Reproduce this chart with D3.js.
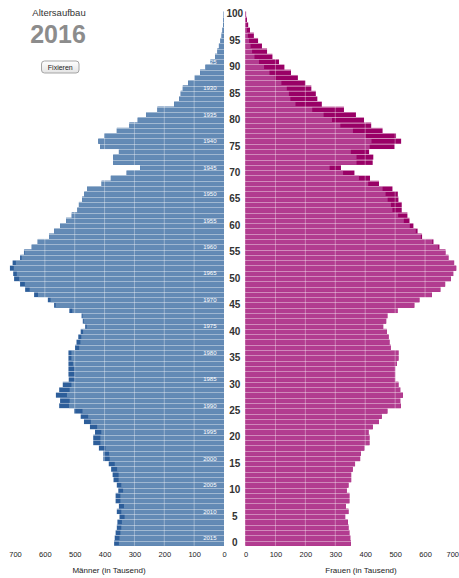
<!DOCTYPE html>
<html>
<head>
<meta charset="utf-8">
<script src="https://cdn.jsdelivr.net/npm/d3@7"></script>
<style>
  body { margin: 0; background: #fff; }
  svg { display: block; font-family: "Liberation Sans", Arial, sans-serif; }
</style>
</head>
<body>
<svg width="459" height="578"></svg>
<script>
// Altersaufbau 2016 - Werte in Tausend, Index = Alter (0 bis 100)
let jahr = 2016;
let alter = d3.range(0, 101);

let maenner = [
  368, 366, 363, 359, 357, 350, 359, 352, 363, 363,   // 0-9
  354, 359, 370, 373, 378, 386, 404, 404, 419, 438,   // 10-19
  438, 432, 449, 469, 480, 502, 552, 549, 563, 552,   // 20-29
  540, 520, 521, 521, 521, 521, 521, 499, 494, 488,   // 30-39
  480, 465, 473, 477, 518, 569, 590, 636, 666, 683,   // 40-49
  703, 706, 717, 708, 683, 670, 644, 624, 586, 569,   // 50-59
  549, 529, 510, 491, 486, 475, 468, 458, 410, 379,   // 60-69
  326, 281, 371, 371, 352, 415, 421, 401, 359, 317,   // 70-79
  289, 261, 223, 167, 150, 145, 138, 120, 98, 80,     // 80-89
  62, 45, 30, 22, 17, 12, 8, 5, 3, 2,                 // 90-99
  1                                                   // 100
];

let frauen = [
  352, 350, 347, 344, 342, 333, 344, 335, 347, 347,
  338, 344, 353, 353, 358, 366, 383, 385, 397, 414,
  414, 411, 425, 446, 455, 474, 519, 517, 526, 517,
  511, 500, 500, 500, 506, 511, 511, 485, 481, 478,
  472, 460, 470, 474, 508, 564, 581, 623, 651, 667,
  686, 694, 704, 697, 678, 668, 648, 628, 590, 575,
  561, 548, 541, 522, 522, 511, 509, 491, 446, 416,
  364, 319, 425, 427, 413, 498, 520, 503, 458, 420,
  396, 369, 329, 255, 240, 235, 220, 200, 175, 152,
  130, 112, 90, 72, 55, 42, 28, 15, 9, 5,
  2
];

let xTicks = [0, 100, 200, 300, 400, 500, 600, 700];
let gridTicks = [100, 200, 300, 400, 500, 600];
let alterTicks = d3.range(0, 101, 5);
// Geburtsjahre, die in die Balken geschrieben werden
let jahrgaenge = d3.range(1925, 2016, 5);

let farben = {
  m: "#638ab5", mDunkel: "#2d5e9a",
  f: "#b23c90", fDunkel: "#990066"
};

let svg = d3.select("svg");

let y = d3.scaleLinear().domain([0, 101]).range([545.8, 11.5]);
let xL = d3.scaleLinear().domain([0, 700]).range([224, 15]);
let xR = d3.scaleLinear().domain([0, 700]).range([245.5, 455]);

let daten = alter.map((a, i) => ({ alter: a, m: maenner[i], f: frauen[i] }));

// Balken: erst voller Wert (dunkel = Ueberschuss), dann der gemeinsame Teil hell
let balken = svg.append("g");

balken.selectAll("rect.m-dunkel")
  .data(daten).enter().append("rect")
  .attr("class", "m-dunkel")
  .attr("x", d => xL(d.m))
  .attr("y", d => y(d.alter + 1))
  .attr("width", d => xL(0) - xL(d.m))
  .attr("height", d => y(d.alter) - y(d.alter + 1))
  .attr("fill", farben.mDunkel);

balken.selectAll("rect.m-hell")
  .data(daten).enter().append("rect")
  .attr("class", "m-hell")
  .attr("x", d => xL(Math.min(d.m, d.f)))
  .attr("y", d => y(d.alter + 1))
  .attr("width", d => xL(0) - xL(Math.min(d.m, d.f)))
  .attr("height", d => y(d.alter) - y(d.alter + 1))
  .attr("fill", farben.m);

balken.selectAll("rect.f-dunkel")
  .data(daten).enter().append("rect")
  .attr("class", "f-dunkel")
  .attr("x", xR(0))
  .attr("y", d => y(d.alter + 1))
  .attr("width", d => xR(d.f) - xR(0))
  .attr("height", d => y(d.alter) - y(d.alter + 1))
  .attr("fill", farben.fDunkel);

balken.selectAll("rect.f-hell")
  .data(daten).enter().append("rect")
  .attr("class", "f-hell")
  .attr("x", xR(0))
  .attr("y", d => y(d.alter + 1))
  .attr("width", d => xR(Math.min(d.m, d.f)) - xR(0))
  .attr("height", d => y(d.alter) - y(d.alter + 1))
  .attr("fill", farben.f);

// helle Trennlinien zwischen den Jahrgaengen
balken.selectAll("line.trenn")
  .data(d3.range(1, 101)).enter().append("line")
  .attr("x1", 0).attr("x2", 459)
  .attr("y1", d => Math.round(y(d)) + 0.5)
  .attr("y2", d => Math.round(y(d)) + 0.5)
  .attr("stroke", "#fff")
  .attr("stroke-opacity", 0.4)
  .attr("stroke-width", 1);

// senkrechte Gitterlinien
balken.selectAll("line.gl")
  .data(gridTicks).enter().append("line")
  .attr("x1", d => xL(d)).attr("x2", d => xL(d))
  .attr("y1", y(101)).attr("y2", y(0))
  .attr("stroke", "#fff").attr("stroke-opacity", 0.35);

balken.selectAll("line.gr")
  .data(gridTicks).enter().append("line")
  .attr("x1", d => xR(d)).attr("x2", d => xR(d))
  .attr("y1", y(101)).attr("y2", y(0))
  .attr("stroke", "#fff").attr("stroke-opacity", 0.35);

// Geburtsjahrgaenge im Maennerbalken
svg.append("g").selectAll("text")
  .data(jahrgaenge).enter().append("text")
  .attr("x", 216.5)
  .attr("y", d => (y(jahr - d) + y(jahr - d + 1)) / 2 + 2.1)
  .attr("text-anchor", "end")
  .attr("font-size", "6px")
  .attr("fill", "#fff")
  .text(d => d);

// Altersachse in der Mitte
let altersAchse = svg.append("g")
  .attr("transform", "translate(234.8,0)")
  .call(d3.axisRight(y).tickValues(alterTicks).tickSize(0).tickPadding(0));
altersAchse.select(".domain").remove();
altersAchse.selectAll("text")
  .attr("x", 0).attr("dy", "0")
  .attr("text-anchor", "middle")
  .attr("font-family", "Liberation Sans, Arial, sans-serif")
  .attr("font-size", "10px")
  .attr("font-weight", "bold")
  .attr("fill", "#333");

// x-Achsen unten
function achse(skala) {
  let g = svg.append("g")
    .attr("transform", "translate(0,548)")
    .call(d3.axisBottom(skala).tickValues(xTicks).tickSize(0).tickPadding(4));
  g.select(".domain").remove();
  g.selectAll("text")
    .attr("font-family", "Liberation Sans, Arial, sans-serif")
    .attr("font-size", "7.5px")
    .attr("fill", "#222");
  return g;
}
achse(xL);
let rechts = achse(xR);
// die 700 ganz rechts an den Rand schieben, damit sie nicht abgeschnitten wird
rechts.selectAll(".tick text")
  .filter(d => d === 700)
  .attr("text-anchor", "end")
  .attr("x", 458.5 - xR(700));

svg.append("text")
  .attr("x", 109).attr("y", 573)
  .attr("text-anchor", "middle")
  .attr("font-size", "8px").attr("fill", "#222")
  .text("Männer (in Tausend)");

svg.append("text")
  .attr("x", 361).attr("y", 573)
  .attr("text-anchor", "middle")
  .attr("font-size", "8px").attr("fill", "#222")
  .text("Frauen (in Tausend)");

// Kopf: Titel, Jahr, Knopf
svg.append("text")
  .attr("x", 59).attr("y", 16)
  .attr("text-anchor", "middle")
  .attr("font-size", "9.5px").attr("fill", "#333")
  .text("Altersaufbau");

svg.append("text")
  .attr("x", 58).attr("y", 43)
  .attr("text-anchor", "middle")
  .attr("font-size", "25px").attr("font-weight", "bold")
  .attr("fill", "#8c8c8c")
  .text(jahr);

let defs = svg.append("defs");
let grad = defs.append("linearGradient").attr("id", "knopf")
  .attr("x1", 0).attr("y1", 0).attr("x2", 0).attr("y2", 1);
grad.append("stop").attr("offset", "0%").attr("stop-color", "#ffffff");
grad.append("stop").attr("offset", "100%").attr("stop-color", "#e4e4e4");

let knopf = svg.append("g").attr("transform", "translate(41.5,61)");
knopf.append("rect")
  .attr("width", 37.5).attr("height", 12)
  .attr("rx", 3)
  .attr("fill", "url(#knopf)")
  .attr("stroke", "#a5a5a5");
knopf.append("text")
  .attr("x", 18.75).attr("y", 8.6)
  .attr("text-anchor", "middle")
  .attr("font-size", "7px").attr("fill", "#222")
  .text("Fixieren");
</script>
</body>
</html>
